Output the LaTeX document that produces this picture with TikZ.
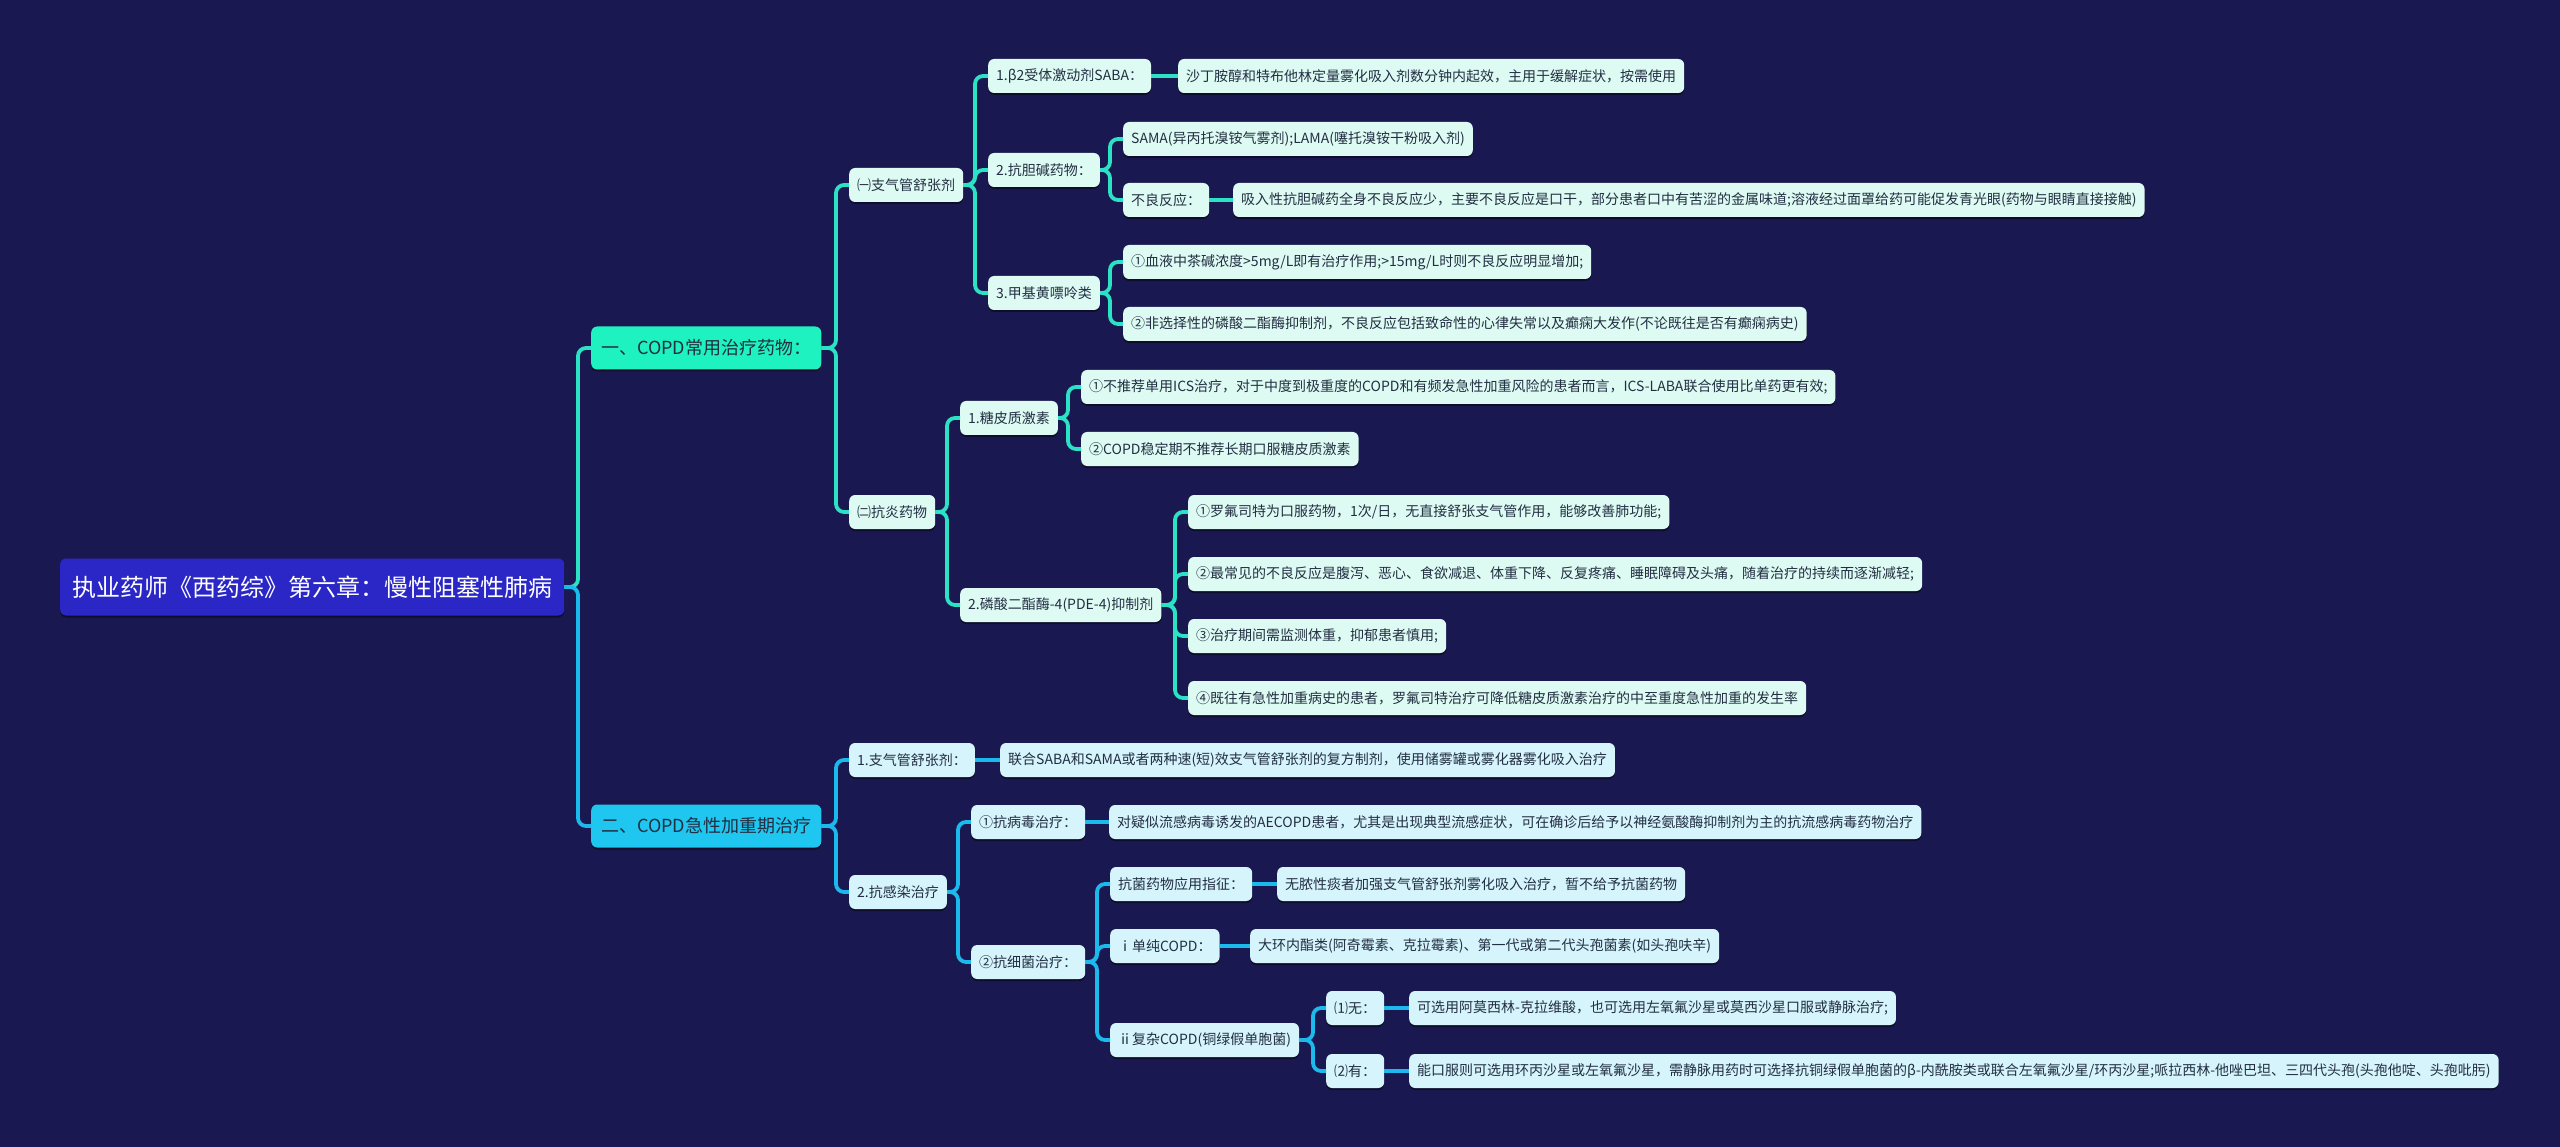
\documentclass[tikz,border=0pt]{standalone}
\usepackage{fontspec}
\setmainfont{Noto Sans CJK SC}
\usetikzlibrary{shadows}
\definecolor{bgnavy}{RGB}{26,24,80}
\definecolor{rootblue}{RGB}{42,39,198}
\definecolor{aqua}{RGB}{30,242,192}
\definecolor{sky}{RGB}{30,198,240}
\definecolor{mint}{RGB}{222,251,243}
\definecolor{ice}{RGB}{214,244,252}
\definecolor{inkc}{RGB}{34,46,66}
\definecolor{aqualine}{RGB}{44,226,196}
\definecolor{skyline}{RGB}{28,186,236}

\begin{document}
\begin{tikzpicture}[x=1pt, y=-1pt,
    box/.style={anchor=west, rounded corners=6pt, text=inkc, inner xsep=8pt, inner ysep=0pt,
      minimum height=34pt, font=\fontsize{14}{16}\selectfont,
      drop shadow={shadow xshift=0pt, shadow yshift=-2pt, opacity=0.45, fill=black}},
    up/.style={box, fill=mint},
    dn/.style={box, fill=ice},
    head/.style={box, minimum height=43pt, inner xsep=10pt, font=\fontsize{18}{20}\selectfont},
    link/.style={line width=3.8pt, rounded corners=8pt}]
    \fill[bgnavy] (0,0) rectangle (2560,1147);
    \useasboundingbox (0,0) rectangle (2560,1147);

    \node[box, fill=rootblue, text=white, minimum height=57pt, inner xsep=12pt,
      font=\fontsize{24}{28}\selectfont] (root) at (60,587) {执业药师《西药综》第六章：慢性阻塞性肺病};
    \node[head, fill=aqua] (drug) at (591,348) {一、COPD常用治疗药物：};
    \node[head, fill=sky] (acute) at (591,826) {二、COPD急性加重期治疗};

    \node[up] (bron) at (849,185) {㈠支气管舒张剂};
    \node[up] (anti) at (849,512) {㈡抗炎药物};
    \node[up] (saba) at (988,76) {1.β2受体激动剂SABA：};
    \node[up] (ach) at (988,170) {2.抗胆碱药物：};
    \node[up] (xan) at (988,293) {3.甲基黄嘌呤类};
    \node[up] (sabat) at (1178,76) {沙丁胺醇和特布他林定量雾化吸入剂数分钟内起效，主用于缓解症状，按需使用};
    \node[up] (sama) at (1123,139) {SAMA(异丙托溴铵气雾剂);LAMA(噻托溴铵干粉吸入剂)};
    \node[up] (adv) at (1123,200) {不良反应：};
    \node[up] (advt) at (1233,200) {吸入性抗胆碱药全身不良反应少，主要不良反应是口干，部分患者口中有苦涩的金属味道;溶液经过面罩给药可能促发青光眼(药物与眼睛直接接触)};
    \node[up] (xana) at (1123,262) {①血液中茶碱浓度>5mg/L即有治疗作用;>15mg/L时则不良反应明显增加;};
    \node[up] (xanb) at (1123,324) {②非选择性的磷酸二酯酶抑制剂，不良反应包括致命性的心律失常以及癫痫大发作(不论既往是否有癫痫病史)};
    \node[up] (ics) at (960,418) {1.糖皮质激素};
    \node[up] (pde) at (960,605) {2.磷酸二酯酶-4(PDE-4)抑制剂};
    \node[up] (icsa) at (1081,387) {①不推荐单用ICS治疗，对于中度到极重度的COPD和有频发急性加重风险的患者而言，ICS-LABA联合使用比单药更有效;};
    \node[up] (icsb) at (1081,449) {②COPD稳定期不推荐长期口服糖皮质激素};
    \node[up] (pdea) at (1188,512) {①罗氟司特为口服药物，1次/日，无直接舒张支气管作用，能够改善肺功能;};
    \node[up] (pdeb) at (1188,574) {②最常见的不良反应是腹泻、恶心、食欲减退、体重下降、反复疼痛、睡眠障碍及头痛，随着治疗的持续而逐渐减轻;};
    \node[up] (pdec) at (1188,636) {③治疗期间需监测体重，抑郁患者慎用;};
    \node[up] (pded) at (1188,698) {④既往有急性加重病史的患者，罗氟司特治疗可降低糖皮质激素治疗的中至重度急性加重的发生率};

    \node[dn] (bd) at (849,760) {1.支气管舒张剂：};
    \node[dn] (bdt) at (1000,760) {联合SABA和SAMA或者两种速(短)效支气管舒张剂的复方制剂，使用储雾罐或雾化器雾化吸入治疗};
    \node[dn] (inf) at (849,892) {2.抗感染治疗};
    \node[dn] (vir) at (971,822) {①抗病毒治疗：};
    \node[dn] (virt) at (1109,822) {对疑似流感病毒诱发的AECOPD患者，尤其是出现典型流感症状，可在确诊后给予以神经氨酸酶抑制剂为主的抗流感病毒药物治疗};
    \node[dn] (bac) at (971,962) {②抗细菌治疗：};
    \node[dn] (ind) at (1110,884) {抗菌药物应用指征：};
    \node[dn] (indt) at (1277,884) {无脓性痰者加强支气管舒张剂雾化吸入治疗，暂不给予抗菌药物};
    \node[dn] (simp) at (1110,946) {ⅰ单纯COPD：};
    \node[dn] (simpt) at (1250,946) {大环内酯类(阿奇霉素、克拉霉素)、第一代或第二代头孢菌素(如头孢呋辛)};
    \node[dn] (comp) at (1110,1040) {ⅱ复杂COPD(铜绿假单胞菌)};
    \node[dn] (no) at (1326,1008) {⑴无：};
    \node[dn] (yes) at (1326,1071) {⑵有：};
    \node[dn] (not) at (1409,1008) {可选用阿莫西林-克拉维酸，也可选用左氧氟沙星或莫西沙星口服或静脉治疗;};
    \node[dn] (yest) at (1409,1071) {能口服则可选用环丙沙星或左氧氟沙星，需静脉用药时可选择抗铜绿假单胞菌的β-内酰胺类或联合左氧氟沙星/环丙沙星;哌拉西林-他唑巴坦、三四代头孢(头孢他啶、头孢吡肟)};

    \foreach \a/\b in {root/drug, drug/bron, drug/anti, bron/saba, bron/ach, bron/xan, ach/sama, ach/adv,
        xan/xana, xan/xanb, anti/ics, anti/pde, ics/icsa, ics/icsb, pde/pdea, pde/pdeb, pde/pdec, pde/pded}
      \draw[link, aqualine] (\a.east) -| ([xshift=-13pt]\b.west) -- (\b.west);
    \foreach \a/\b in {saba/sabat, adv/advt}
      \draw[link, aqualine] (\a.east) -- (\b.west);
    \foreach \a/\b in {root/acute, acute/bd, acute/inf, inf/vir, inf/bac, bac/ind, bac/simp, bac/comp, comp/no, comp/yes}
      \draw[link, skyline] (\a.east) -| ([xshift=-13pt]\b.west) -- (\b.west);
    \foreach \a/\b in {bd/bdt, vir/virt, ind/indt, simp/simpt, no/not, yes/yest}
      \draw[link, skyline] (\a.east) -- (\b.west);
\end{tikzpicture}
\end{document}
